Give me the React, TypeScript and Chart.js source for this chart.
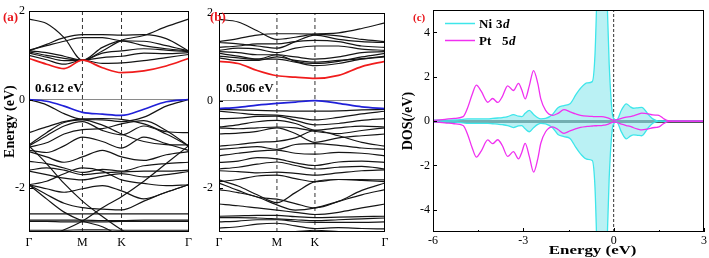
import React, { useEffect, useRef } from 'react';
import { Chart, registerables } from 'chart.js';
Chart.register(...registerables);

const SERIF = '"Liberation Serif", "Times New Roman", serif';

// ---------- shared band-structure axis data ----------
const kLabels = ['Γ', 'M', 'K', 'Γ'];
const energyTicks = [-2, 0, 2];
const E_MIN = -3;
const E_MAX = 2;

// ---------- panel (a) ----------
const kPathA = [0, 0.11, 0.22, 0.335, 0.46, 0.58, 0.72, 0.86, 1];
const kTicksA = [0, 0.335, 0.58, 1];
const gapA = '0.612 eV';
const cbmA = [0.93, 0.8, 0.7, 0.89, 0.72, 0.61, 0.65, 0.76, 0.93];
const vbmA = [0, -0.04, -0.15, -0.29, -0.33, -0.36, -0.22, -0.05, 0];
const bandsA = [
  [1.82, 1.72, 1.4, 0.89, 1.1, 1.34, 1.45, 1.65, 1.82],
  [1.1, 1.25, 1.4, 1.47, 1.47, 1.46, 1.47, 1.38, 1.1],
  [1.12, 1.22, 1.32, 1.4, 1.4, 1.33, 1.32, 1.22, 1.1],
  [1.1, 1.06, 0.98, 0.89, 1.18, 1.33, 1.22, 1.15, 1.1],
  [1.08, 1.0, 0.93, 0.89, 1.05, 1.1, 1.15, 1.12, 1.08],
  [1.05, 0.96, 0.88, 0.89, 0.95, 0.98, 1.05, 1.04, 1.06],
  [1.0, 0.9, 0.8, 0.89, 0.82, 0.83, 0.88, 0.95, 1.02],
  [0, -0.12, -0.32, -0.45, -0.46, -0.5, -0.4, -0.15, 0],
  [-0.75, -0.62, -0.5, -0.44, -0.43, -0.45, -0.55, -0.73, -0.75],
  [-1.03, -0.75, -0.52, -0.46, -0.58, -0.78, -0.95, -1.02, -1.03],
  [-1.05, -0.82, -0.6, -0.5, -0.7, -0.8, -0.6, -0.78, -1.05],
  [-1.08, -0.98, -0.78, -0.68, -0.66, -0.55, -0.48, -0.7, -1.05],
  [-1.15, -1.2, -1.05, -0.85, -0.95, -1.1, -0.85, -1.0, -1.15],
  [-1.18, -1.3, -1.42, -1.3, -1.15, -1.3, -1.38, -1.25, -1.18],
  [-1.05, -1.45, -1.9, -2.3, -2.65, -2.95, -3.2, -3.3, -3.3],
  [-3.2, -3.1, -2.95, -2.75, -2.45, -2.2, -1.85, -1.45, -1.05],
  [-1.4, -1.45, -1.55, -1.65, -1.58, -1.62, -1.5, -1.45, -1.42],
  [-1.6, -1.55, -1.6, -1.7, -1.66, -1.64, -1.62, -1.62, -1.6],
  [-1.62, -1.7, -1.78, -1.82, -1.74, -1.68, -1.75, -1.7, -1.63],
  [-1.93, -1.85, -1.68, -1.55, -1.62, -1.82, -1.9, -1.95, -1.93],
  [-1.93, -2.02, -2.1, -2.02, -1.95, -2.07, -2.25, -2.1, -1.93],
  [-1.93, -2.15, -2.35, -2.45, -2.48, -2.5, -2.3, -2.1, -1.93],
  [-1.93, -2.25, -2.55, -2.75, -2.88, -3.1, -3.2, -3.2, -3.2],
  [-2.59, -2.59, -2.59, -2.59, -2.59, -2.59, -2.59, -2.59, -2.59],
  [-2.73, -2.73, -2.73, -2.73, -2.74, -2.74, -2.73, -2.73, -2.73],
  [-2.76, -2.76, -2.77, -2.77, -2.77, -2.76, -2.76, -2.76, -2.76],
  [-2.96, -2.96, -2.96, -2.95, -2.95, -2.96, -2.96, -2.96, -2.96],
];

// ---------- panel (b) ----------
const kPathB = [0, 0.115, 0.23, 0.349, 0.46, 0.578, 0.72, 0.86, 1];
const kTicksB = [0, 0.349, 0.578, 1];
const gapB = '0.506 eV';
const cbmB = [0.9, 0.85, 0.69, 0.57, 0.54, 0.51, 0.58, 0.78, 0.9];
const vbmB = [-0.18, -0.15, -0.1, -0.06, -0.03, 0, -0.06, -0.14, -0.18];
const bandsB = [
  [1.86, 1.8, 1.6, 1.4, 1.45, 1.52, 1.55, 1.65, 1.78],
  [1.35, 1.42, 1.5, 1.53, 1.53, 1.52, 1.48, 1.4, 1.35],
  [1.33, 1.3, 1.25, 1.2, 1.35, 1.5, 1.4, 1.35, 1.33],
  [1.22, 1.25, 1.3, 1.3, 1.35, 1.38, 1.35, 1.25, 1.22],
  [1.15, 1.2, 1.18, 1.1, 1.2, 1.25, 1.25, 1.18, 1.15],
  [1.12, 1.1, 1.05, 1.05, 1.0, 0.95, 1.0, 1.1, 1.12],
  [1.08, 1.02, 0.95, 1.05, 0.9, 0.85, 0.9, 1.0, 1.08],
  [1.02, 0.98, 0.95, 0.95, 0.88, 0.8, 0.85, 0.95, 1.02],
  [0.98, 0.92, 0.92, 1.0, 0.92, 0.88, 0.92, 0.96, 1.0],
  [-0.2, -0.21, -0.22, -0.23, -0.24, -0.24, -0.23, -0.21, -0.2],
  [-0.24, -0.28, -0.32, -0.33, -0.38, -0.44, -0.38, -0.3, -0.24],
  [-0.41, -0.4, -0.36, -0.35, -0.45, -0.55, -0.52, -0.45, -0.41],
  [-0.6, -0.55, -0.48, -0.45, -0.52, -0.67, -0.62, -0.58, -0.6],
  [-0.62, -0.64, -0.62, -0.6, -0.62, -0.7, -0.75, -0.68, -0.62],
  [-0.76, -0.74, -0.7, -0.62, -0.75, -0.95, -0.85, -0.8, -0.76],
  [-1.04, -1.0, -0.95, -0.93, -0.85, -0.68, -0.8, -0.95, -1.04],
  [-1.11, -1.08, -1.05, -1.11, -1.0, -0.98, -1.02, -1.08, -1.11],
  [-1.26, -1.2, -1.15, -1.13, -1.2, -1.22, -1.18, -1.2, -1.26],
  [-1.41, -1.38, -1.3, -1.33, -1.42, -1.48, -1.4, -1.38, -1.41],
  [-1.56, -1.52, -1.45, -1.4, -1.48, -1.56, -1.52, -1.5, -1.56],
  [-1.6, -1.62, -1.65, -1.63, -1.66, -1.7, -1.65, -1.6, -1.58],
  [-1.85, -1.8, -1.72, -1.7, -1.78, -1.85, -1.8, -1.82, -1.85],
  [-1.81, -1.95, -2.15, -2.33, -2.1, -1.85, -1.8, -1.8, -1.81],
  [-1.88, -2.05, -2.2, -2.25, -2.35, -2.45, -2.3, -2.05, -1.88],
  [-2.03, -2.1, -2.2, -2.38, -2.5, -2.45, -2.3, -2.15, -2.03],
  [-2.36, -2.4, -2.45, -2.5, -2.55, -2.6, -2.55, -2.45, -2.36],
  [-2.64, -2.63, -2.62, -2.62, -2.65, -2.67, -2.66, -2.65, -2.64],
  [-2.67, -2.67, -2.68, -2.7, -2.72, -2.74, -2.72, -2.7, -2.68],
  [-2.77, -2.75, -2.72, -2.72, -2.76, -2.78, -2.78, -2.78, -2.77],
  [-2.91, -2.88, -2.82, -2.8, -2.86, -2.92, -2.9, -2.92, -2.93],
  [-3.05, -3.02, -3.0, -3.01, -2.99, -2.96, -2.99, -3.02, -3.05],
];

// ---------- panel (c) DOS ----------
const dosEnergy = [-6, -5.6, -5.3, -5.0, -4.85, -4.7, -4.56, -4.4, -4.18, -4.02, -3.85, -3.7, -3.52, -3.33, -3.16, -3.05, -2.94, -2.8, -2.66, -2.52, -2.42, -2.26, -2.03, -1.85, -1.65, -1.45, -1.25, -1.1, -0.88, -0.71, -0.62, -0.56, -0.5, -0.4, -0.3, -0.23, -0.15, -0.05, 0, 0.1, 0.26, 0.42, 0.55, 0.66, 0.8, 0.93, 1.15, 1.3, 1.43, 1.5, 1.65, 1.8, 2.0, 3.0];
const niUp = [0.04, 0.04, 0.05, 0.08, 0.1, 0.1, 0.1, 0.1, 0.1, 0.12, 0.14, 0.16, 0.2, 0.29, 0.22, 0.2, 0.35, 0.48, 0.3, 0.15, 0.1, 0.12, 0.3, 0.6, 0.7, 0.78, 1.2, 1.48, 1.72, 1.78, 3.0, 5.5, 8, 8, 8, 6, 2.6, 0.4, 0.12, 0.05, 0.5, 0.78, 0.65, 0.58, 0.6, 0.62, 0.3, 0.1, 0.02, 0, 0, 0, 0, 0];
const niDown = [-0.04, -0.04, -0.05, -0.08, -0.1, -0.1, -0.1, -0.1, -0.1, -0.12, -0.14, -0.16, -0.2, -0.29, -0.22, -0.2, -0.35, -0.48, -0.3, -0.15, -0.1, -0.12, -0.3, -0.6, -0.7, -0.78, -1.2, -1.48, -1.72, -1.78, -3.0, -5.5, -8, -8, -8, -6, -2.6, -0.4, -0.12, -0.05, -0.5, -0.8, -0.68, -0.62, -0.64, -0.66, -0.3, -0.1, -0.02, 0, 0, 0, 0, 0];
const ptUp = [0.03, 0.08, 0.12, 0.2, 0.6, 1.2, 1.62, 1.35, 0.85, 1.02, 0.84, 1.1, 1.59, 1.38, 1.7, 1.4, 1.0, 1.6, 2.28, 1.7, 1.0, 0.48, 0.26, 0.35, 0.52, 0.42, 0.32, 0.26, 0.22, 0.21, 0.2, 0.2, 0.2, 0.2, 0.18, 0.16, 0.12, 0.06, 0.04, 0.06, 0.12, 0.18, 0.2, 0.24, 0.3, 0.36, 0.33, 0.28, 0.27, 0.26, 0.12, 0.02, 0, 0];
const ptDown = [-0.03, -0.08, -0.12, -0.2, -0.6, -1.2, -1.62, -1.35, -0.85, -1.02, -0.84, -1.1, -1.59, -1.38, -1.7, -1.4, -1.0, -1.6, -2.3, -1.7, -1.0, -0.48, -0.26, -0.38, -0.55, -0.44, -0.34, -0.28, -0.24, -0.22, -0.21, -0.21, -0.2, -0.2, -0.18, -0.16, -0.12, -0.06, -0.04, -0.06, -0.14, -0.2, -0.24, -0.3, -0.36, -0.4, -0.35, -0.3, -0.28, -0.26, -0.12, -0.02, 0, 0];
const dosXTicks = [-6, -3, 0, 3];
const dosXMinor = [-4.5, -1.5, 1.5];
const dosYTicks = [-4, -2, 0, 2, 4];
const DOS_XMIN = -6, DOS_XMAX = 3, DOS_YMIN = -5, DOS_YMAX = 5;
const dosXTitle = 'Energy (eV)';
const legendItems = [
  { name: 'Ni', orb: '3', sub: 'd', color: '#3ee6ea' },
  { name: 'Pt', orb: '5', sub: 'd', color: '#f030f0' },
];

const W = 709, H = 258;

function framePlugin() {
  return {
    id: 'frame',
    afterDatasetsDraw(chart: any) {
      const { ctx, chartArea } = chart;
      const { left, top, right, bottom } = chartArea;
      ctx.save();
      ctx.strokeStyle = '#000';
      ctx.lineWidth = 1;
      ctx.strokeRect(Math.round(left) + 0.5, Math.round(top) + 0.5, Math.round(right - left) - 1, Math.round(bottom - top) - 1);
      ctx.restore();
    },
  };
}

function inTicksPlugin(xMajor: number[], xMinor: number[], yMajor: number[]) {
  return {
    id: 'inTicks',
    afterDatasetsDraw(chart: any) {
      const { ctx, chartArea, scales } = chart;
      ctx.save();
      ctx.strokeStyle = '#000';
      ctx.lineWidth = 1;
      ctx.beginPath();
      xMajor.forEach((v) => {
        const x = Math.round(scales.x.getPixelForValue(v)) + 0.5;
        ctx.moveTo(x, chartArea.bottom);
        ctx.lineTo(x, chartArea.bottom - 4);
      });
      xMinor.forEach((v) => {
        const x = Math.round(scales.x.getPixelForValue(v)) + 0.5;
        ctx.moveTo(x, chartArea.bottom);
        ctx.lineTo(x, chartArea.bottom - 2);
      });
      yMajor.forEach((v) => {
        const y = Math.round(scales.y.getPixelForValue(v)) + 0.5;
        ctx.moveTo(chartArea.left, y);
        ctx.lineTo(chartArea.left + 4, y);
      });
      ctx.stroke();
      ctx.restore();
    },
  };
}

function textPlugin(draw: (ctx: CanvasRenderingContext2D, chart: any) => void) {
  return {
    id: 'texts',
    afterDraw(chart: any) {
      const ctx = chart.ctx;
      ctx.save();
      draw(ctx, chart);
      ctx.restore();
    },
  };
}

function makeBandChart(canvas: HTMLCanvasElement, cfg: any) {
  const { k, kTicks, cbm, vbm, bands, gap, label, yAxisW, rightPad, showTitle, labelX, gapX, tickPad, titlePad } = cfg;
  const toPts = (arr: number[]) => arr.map((e, i) => ({ x: k[i], y: e }));
  const vline = (x: number) => ({
    data: [{ x, y: E_MIN }, { x, y: E_MAX }],
    borderColor: '#333',
    borderWidth: 1,
    borderDash: [4, 3],
    tension: 0,
    cubicInterpolationMode: 'default',
  });
  const datasets: any[] = [
    { data: toPts(cbm), borderColor: '#f01c1c', borderWidth: 1.7 },
    { data: toPts(vbm), borderColor: '#2020d8', borderWidth: 1.7 },
    ...bands.map((b: number[]) => ({ data: toPts(b), borderColor: '#151515', borderWidth: 1.2 })),
    vline(kTicks[1]),
    vline(kTicks[2]),
  ];
  return new Chart(canvas, {
    type: 'line',
    data: { datasets },
    options: {
      animation: false,
      responsive: false,
      events: [],
      layout: { padding: { top: 6, right: rightPad, left: 0, bottom: 0 } },
      elements: {
        point: { radius: 0 },
        line: { cubicInterpolationMode: 'monotone', fill: false },
      },
      plugins: { legend: { display: false }, tooltip: { enabled: false } },
      scales: {
        x: {
          type: 'linear',
          min: 0,
          max: 1,
          border: { display: false },
          grid: { display: false, drawTicks: false },
          afterBuildTicks: (s: any) => { s.ticks = kTicks.map((v: number) => ({ value: v })); },
          afterFit: (s: any) => { s.height = 26; },
          ticks: {
            autoSkip: false,
            maxRotation: 0,
            padding: 4,
            color: '#000',
            font: { family: SERIF, size: 12 },
            callback: (_v: any, i: number) => kLabels[i],
          },
        },
        y: {
          type: 'linear',
          min: E_MIN,
          max: E_MAX,
          border: { display: false },
          grid: {
            drawTicks: false,
            color: (c: any) => (c.tick && c.tick.value === 0 ? '#8a8a8a' : 'rgba(0,0,0,0)'),
            lineWidth: 1,
          },
          afterBuildTicks: (s: any) => { s.ticks = energyTicks.map((v) => ({ value: v })); },
          afterFit: (s: any) => { s.width = yAxisW; },
          ticks: {
            padding: tickPad,
            color: '#000',
            font: { family: SERIF, size: 12 },
            callback: (v: any) => String(v),
          },
          title: {
            display: showTitle,
            text: 'Energy (eV)',
            color: '#000',
            font: { family: SERIF, size: 14, weight: 'bold' },
            padding: { top: titlePad, bottom: 0 },
          },
        },
      },
    },
    plugins: [
      framePlugin(),
      inTicksPlugin([], [], energyTicks),
      textPlugin((ctx) => {
        ctx.fillStyle = '#e8151b';
        ctx.font = `bold 13px ${SERIF}`;
        ctx.textBaseline = 'alphabetic';
        ctx.fillText(label, labelX, 21);
        ctx.fillStyle = '#000';
        ctx.font = `bold 13px ${SERIF}`;
        ctx.fillText(gap, gapX, 92);
      }),
    ],
  } as any);
}

function makeDosChart(canvas: HTMLCanvasElement) {
  const pts = (arr: number[]) => arr.map((v, i) => ({ x: dosEnergy[i], y: v }));
  const ni = legendItems[0].color;
  const pt = legendItems[1].color;
  const fillCol = 'rgba(140,232,236,0.6)';
  const datasets: any[] = [
    { data: pts(ptUp), borderColor: pt, borderWidth: 1.3, fill: false },
    { data: pts(ptDown), borderColor: pt, borderWidth: 1.3, fill: false },
    { data: pts(niUp), borderColor: ni, borderWidth: 1.3, fill: 'origin', backgroundColor: fillCol },
    { data: pts(niDown), borderColor: ni, borderWidth: 1.3, fill: 'origin', backgroundColor: fillCol },
    {
      data: [{ x: 0, y: DOS_YMIN }, { x: 0, y: DOS_YMAX }],
      borderColor: '#333', borderWidth: 1, borderDash: [3, 2], tension: 0, cubicInterpolationMode: 'default', fill: false,
    },
  ];
  return new Chart(canvas, {
    type: 'line',
    data: { datasets },
    options: {
      animation: false,
      responsive: false,
      events: [],
      layout: { padding: { top: 6, right: 3, left: 0, bottom: 0 } },
      elements: {
        point: { radius: 0 },
        line: { cubicInterpolationMode: 'monotone' },
      },
      plugins: { legend: { display: false }, tooltip: { enabled: false } },
      scales: {
        x: {
          type: 'linear',
          min: DOS_XMIN,
          max: DOS_XMAX,
          border: { display: false },
          grid: { display: false, drawTicks: false },
          afterBuildTicks: (s: any) => { s.ticks = dosXTicks.map((v) => ({ value: v })); },
          afterFit: (s: any) => { s.height = 26; },
          ticks: {
            autoSkip: false,
            maxRotation: 0,
            padding: 2,
            color: '#000',
            font: { family: SERIF, size: 12 },
            callback: (v: any) => String(v),
          },
        },
        y: {
          type: 'linear',
          min: DOS_YMIN,
          max: DOS_YMAX,
          border: { display: false },
          grid: {
            drawTicks: false,
            color: (c: any) => (c.tick && c.tick.value === 0 ? '#4e5a5a' : 'rgba(0,0,0,0)'),
            lineWidth: 3,
          },
          afterBuildTicks: (s: any) => { s.ticks = dosYTicks.map((v) => ({ value: v })); },
          afterFit: (s: any) => { s.width = 38; },
          ticks: {
            padding: 3,
            color: '#000',
            font: { family: SERIF, size: 12 },
            callback: (v: any) => String(v),
          },
          title: {
            display: true,
            text: 'DOS(/eV)',
            color: '#000',
            font: { family: SERIF, size: 14, weight: 'bold' },
            padding: { top: 5, bottom: 0 },
          },
        },
      },
    },
    plugins: [
      framePlugin(),
      inTicksPlugin(dosXTicks, dosXMinor, dosYTicks),
      textPlugin((ctx, chart) => {
        ctx.textBaseline = 'alphabetic';
        ctx.fillStyle = '#e8151b';
        ctx.font = `bold 11px ${SERIF}`;
        ctx.fillText('(c)', 18, 21);
        legendItems.forEach((it, i) => {
          const y = 23 + i * 17;
          ctx.strokeStyle = it.color;
          ctx.lineWidth = 1.5;
          ctx.beginPath();
          ctx.moveTo(50, y + 0.5);
          ctx.lineTo(80, y + 0.5);
          ctx.stroke();
          ctx.fillStyle = '#000';
          ctx.font = `bold 13px ${SERIF}`;
          ctx.fillText(it.name, 84, y + 5);
          const ox = i === 0 ? 101 : 107;
          ctx.fillText(it.orb, ox, y + 5);
          ctx.font = `italic bold 13px ${SERIF}`;
          ctx.fillText(it.sub, ox + 7, y + 5);
        });
        // x-axis title (horizontally stretched like the source)
        const cx = chart.scales.x.getPixelForValue(-0.7);
        ctx.fillStyle = '#000';
        ctx.font = `bold 13px ${SERIF}`;
        ctx.textAlign = 'center';
        ctx.translate(cx, 254);
        ctx.scale(1.3, 1);
        ctx.fillText(dosXTitle, 0, 0);
      }),
    ],
  } as any);
}

export default function App() {
  const refA = useRef<HTMLCanvasElement>(null);
  const refB = useRef<HTMLCanvasElement>(null);
  const refC = useRef<HTMLCanvasElement>(null);

  useEffect(() => {
    const charts: Chart[] = [];
    if (refA.current) {
      charts.push(makeBandChart(refA.current, {
        k: kPathA, kTicks: kTicksA, cbm: cbmA, vbm: vbmA, bands: bandsA, gap: gapA,
        label: '(a)', yAxisW: 29, rightPad: 3, showTitle: true, labelX: 3, gapX: 35, tickPad: 4, titlePad: 2,
      }));
    }
    if (refB.current) {
      charts.push(makeBandChart(refB.current, {
        k: kPathB, kTicks: kTicksB, cbm: cbmB, vbm: vbmB, bands: bandsB, gap: gapB,
        label: '(b)', yAxisW: 23, rightPad: 10, showTitle: false, labelX: 14, gapX: 30, tickPad: 6, titlePad: 0,
      }));
    }
    if (refC.current) charts.push(makeDosChart(refC.current));
    return () => charts.forEach((c) => c.destroy());
  }, []);

  return (
    <div style={{ position: 'absolute', left: 0, top: 0, width: W, height: H, background: '#fff', overflow: 'hidden' }}>
      <canvas ref={refA} width={196} height={H} style={{ position: 'absolute', left: 0, top: 0 }} />
      <canvas ref={refB} width={199} height={H} style={{ position: 'absolute', left: 196, top: 0 }} />
      <canvas ref={refC} width={314} height={H} style={{ position: 'absolute', left: 395, top: 0 }} />
    </div>
  );
}
